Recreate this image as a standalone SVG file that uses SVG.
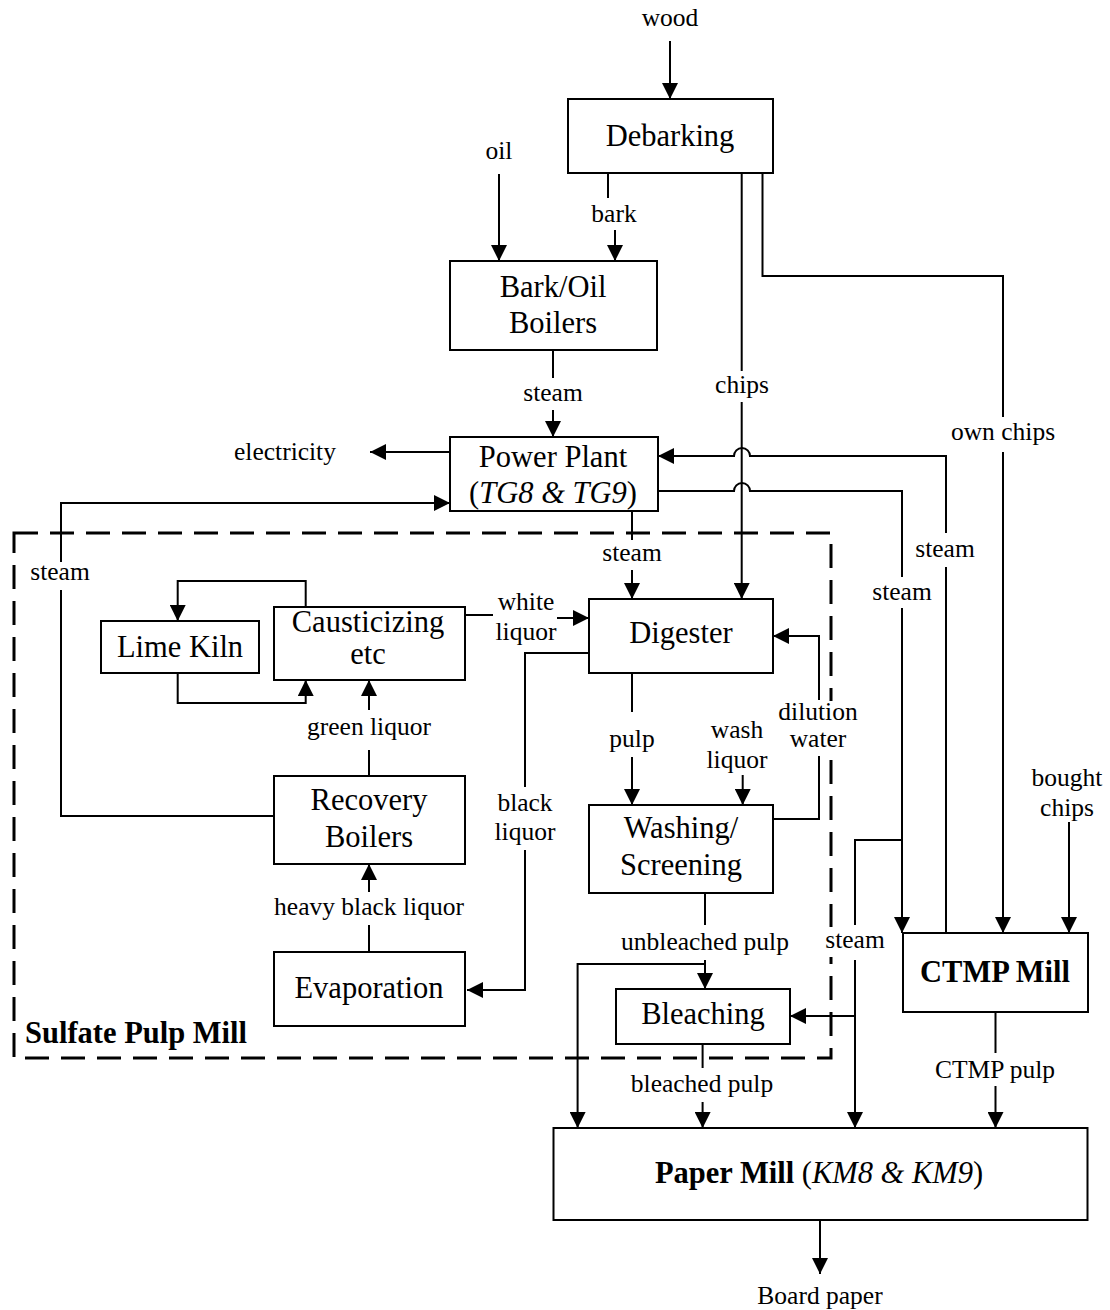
<svg xmlns="http://www.w3.org/2000/svg" width="1110" height="1310" viewBox="0 0 1110 1310">
<style>
  .box { fill: #fff; stroke: #000; stroke-width: 2; }
  .bt { font-family: "Liberation Serif", "Times New Roman", serif; font-size: 30.5px; text-anchor: middle; fill: #000; }
  .lb { font-family: "Liberation Serif", "Times New Roman", serif; font-size: 25.5px; text-anchor: middle; fill: #000; }
  .c { fill: none; stroke: #000; stroke-width: 2; marker-end: url(#ah); }
  .cn { fill: none; stroke: #000; stroke-width: 2; }
  .b { font-weight: bold; }
  .i { font-style: italic; }
  .bg { fill: #fff; stroke: none; }
</style>
<defs>
  <marker id="ah" markerUnits="userSpaceOnUse" markerWidth="16" markerHeight="16" refX="16" refY="8" orient="auto">
    <path d="M0,0 L16,8 L0,16 z" fill="#000"/>
  </marker>
</defs>
<rect width="1110" height="1310" fill="#fff"/>

<g id="sulfate-pulp-mill">
  <rect x="14" y="533" width="817" height="525" fill="none" stroke="#000" stroke-width="3" stroke-dasharray="24,12"/>
  <text class="bt b" x="25" y="1043" style="text-anchor:start">Sulfate Pulp Mill</text>
</g>

<g id="connectors">
  <path class="c" d="M670,41 V99"/>
  <path class="c" d="M499,174 V261"/>
  <path class="c" d="M608,173 V198 M615,230 V261"/>
  <path class="c" d="M741.7,173 V371 M741.7,402 V599"/>
  <path class="c" d="M762.5,173 V276 H1003 V417 M1003,452 V933"/>
  <path class="c" d="M553,350 V378 M553,410 V437"/>
  <path class="c" d="M450,452 H370"/>
  <path class="c" d="M275,816 H61 V590 M61,562 V503 H450"/>
  <path class="c" d="M946,933 V567 M946,533 V456 H750 A8,8 0 0 0 734,456 H658"/>
  <path class="c" d="M658,491 H734 A8,8 0 0 1 750,491 H902 V577 M902,608 V933"/>
  <path class="c" d="M902,840 H855 V925 M855,960 V1128"/>
  <path class="c" d="M855,1016 H790"/>
  <path class="c" d="M632,511 V540 M632,570 V599"/>
  <path class="cn" d="M465,615 H493"/>
  <path class="c" d="M557,618 H589"/>
  <path class="c" d="M589,653 H525 V787 M525,850 V990 H467"/>
  <path class="c" d="M632,673 V712 M632,757 V805"/>
  <path class="c" d="M742.7,775 V805"/>
  <path class="c" d="M773,819 H819 V756 M819,700 V636 H773"/>
  <path class="c" d="M305.7,607 V581 H177.7 V621"/>
  <path class="c" d="M177.7,673 V703 H305.7 V680"/>
  <path class="c" d="M369,776 V750 M369,710 V680"/>
  <path class="c" d="M369,952 V925 M369,892 V864"/>
  <path class="c" d="M705,893 V925 M705,960 V989"/>
  <path class="c" d="M705,964 H577.6 V1128"/>
  <path class="c" d="M702.6,1044 V1068 M702.6,1102 V1128"/>
  <path class="c" d="M995.5,1012 V1053 M995.5,1086 V1128"/>
  <path class="c" d="M1069,822 V933"/>
  <path class="c" d="M820,1220 V1274"/>
</g>

<g id="labels">
  <rect class="bg" x="780" y="701" width="78" height="52"/>
  <rect class="bg" x="826" y="927" width="58" height="30"/>
  <text class="lb" x="670" y="26">wood</text>
  <text class="lb" x="499" y="159">oil</text>
  <text class="lb" x="614" y="222">bark</text>
  <text class="lb" x="553" y="401">steam</text>
  <text class="lb" x="742" y="393">chips</text>
  <text class="lb" x="1003" y="440">own chips</text>
  <text class="lb" x="285" y="460">electricity</text>
  <text class="lb" x="60" y="580">steam</text>
  <text class="lb" x="632" y="561">steam</text>
  <text class="lb" x="945" y="557">steam</text>
  <text class="lb" x="902" y="600">steam</text>
  <text class="lb" x="526" y="610">white</text>
  <text class="lb" x="526" y="640">liquor</text>
  <text class="lb" x="369" y="735">green liquor</text>
  <text class="lb" x="632" y="747">pulp</text>
  <text class="lb" x="737" y="738">wash</text>
  <text class="lb" x="737" y="768">liquor</text>
  <text class="lb" x="818" y="720">dilution</text>
  <text class="lb" x="818" y="747">water</text>
  <text class="lb" x="525" y="811">black</text>
  <text class="lb" x="525" y="840">liquor</text>
  <text class="lb" x="369" y="915">heavy black liquor</text>
  <text class="lb" x="705" y="950">unbleached pulp</text>
  <text class="lb" x="855" y="948">steam</text>
  <text class="lb" x="702" y="1092">bleached pulp</text>
  <text class="lb" x="995" y="1078">CTMP pulp</text>
  <text class="lb" x="1067" y="786">bought</text>
  <text class="lb" x="1067" y="816">chips</text>
  <text class="lb" x="820" y="1304">Board paper</text>
</g>

<g id="debarking">
  <rect class="box" x="568" y="99" width="205" height="74"/>
  <text class="bt" x="670" y="146">Debarking</text>
</g>
<g id="bark-oil-boilers">
  <rect class="box" x="450" y="261" width="207" height="89"/>
  <text class="bt" x="553" y="297">Bark/Oil</text>
  <text class="bt" x="553" y="333">Boilers</text>
</g>
<g id="power-plant">
  <rect class="box" x="450" y="437" width="208" height="74"/>
  <text class="bt" x="553" y="467">Power Plant</text>
  <text class="bt" x="553" y="503">(<tspan class="i">TG8 &amp; TG9</tspan>)</text>
</g>
<g id="lime-kiln">
  <rect class="box" x="101" y="621" width="158" height="52"/>
  <text class="bt" x="180" y="657">Lime Kiln</text>
</g>
<g id="causticizing">
  <rect class="box" x="274" y="607" width="191" height="73"/>
  <text class="bt" x="368" y="632">Causticizing</text>
  <text class="bt" x="368" y="664">etc</text>
</g>
<g id="digester">
  <rect class="box" x="589" y="599" width="184" height="74"/>
  <text class="bt" x="681" y="643">Digester</text>
</g>
<g id="recovery-boilers">
  <rect class="box" x="274" y="776" width="191" height="88"/>
  <text class="bt" x="369" y="810">Recovery</text>
  <text class="bt" x="369" y="847">Boilers</text>
</g>
<g id="washing-screening">
  <rect class="box" x="589" y="805" width="184" height="88"/>
  <text class="bt" x="681" y="838">Washing/</text>
  <text class="bt" x="681" y="875">Screening</text>
</g>
<g id="evaporation">
  <rect class="box" x="274" y="952" width="191" height="74"/>
  <text class="bt" x="369" y="998">Evaporation</text>
</g>
<g id="bleaching">
  <rect class="box" x="616" y="989" width="174" height="55"/>
  <text class="bt" x="703" y="1024">Bleaching</text>
</g>
<g id="ctmp-mill">
  <rect class="box" x="903" y="933" width="185" height="79"/>
  <text class="bt b" x="995" y="982">CTMP Mill</text>
</g>
<g id="paper-mill">
  <rect class="box" x="553.5" y="1128" width="534" height="92"/>
  <text class="bt" x="819" y="1183"><tspan class="b">Paper Mill</tspan> (<tspan class="i">KM8 &amp; KM9</tspan>)</text>
</g>
</svg>
